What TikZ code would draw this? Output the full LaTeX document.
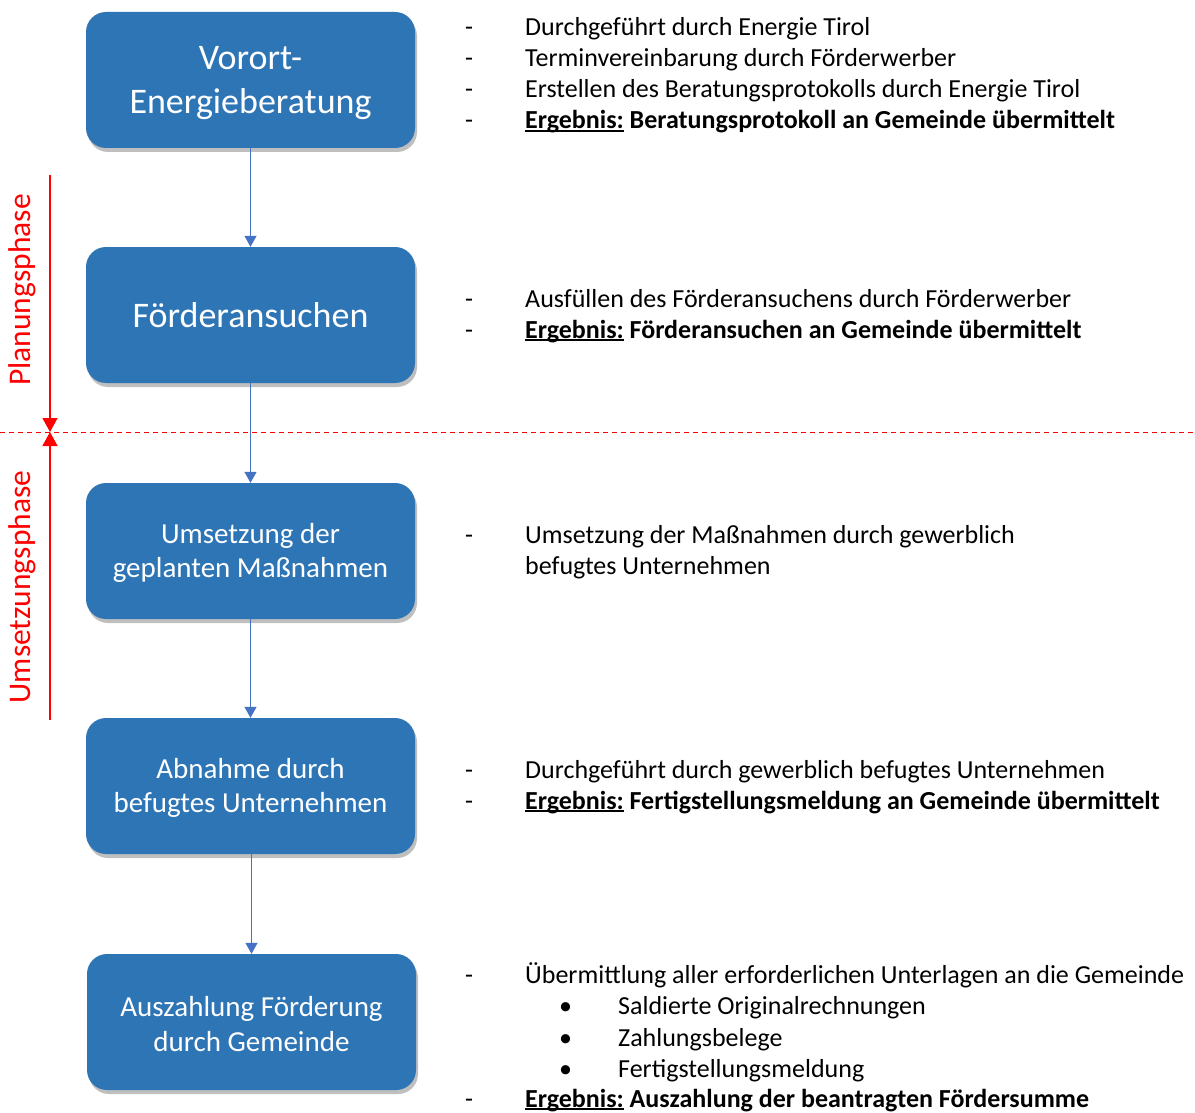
\documentclass[tikz,border=0pt]{standalone}
\usepackage{fontspec}
\setmainfont{Carlito}
\usetikzlibrary{shadows,arrows.meta}
\definecolor{boxblue}{HTML}{2E75B6}
\definecolor{arrblue}{HTML}{4472C4}
\newcommand{\ergul}[1]{{\setbox0\hbox{#1}\rlap{\rule[-2.6pt]{\wd0}{1.3pt}}\box0}}
\begin{document}
\begin{tikzpicture}[x=1pt,y=-1pt,
  stepbox/.style={draw=none,fill=boxblue,rounded corners=20pt,minimum width=329pt,minimum height=136pt,
    text=white,align=center,inner sep=0pt,
    drop shadow={shadow xshift=2pt,shadow yshift=-4pt,opacity=0.25,fill=black}},
  bigtxt/.style={font=\fontsize{36}{44}\selectfont},
  midtxt/.style={font=\fontsize{29}{34.5}\selectfont},
  flow/.style={draw=arrblue,line width=1.2pt,-{Triangle[length=11pt,width=12pt]}},
  info/.style={anchor=base west,inner sep=0pt,font=\fontsize{26}{30}\selectfont},
  phase/.style={red,line width=1.3pt},
  phasetxt/.style={red,rotate=90,inner sep=0pt,font=\fontsize{31.5}{36}\selectfont}
]
\useasboundingbox (0,0) rectangle (1195,1113);
\fill[white] (0,0) rectangle (1195,1113);

% boxes
\node[stepbox,bigtxt] (b1) at (250.5,80) {\rule{0pt}{30pt}Vorort-\\Energieberatung};
\node[stepbox,bigtxt] (b2) at (250.5,315) {Förderansuchen};
\node[stepbox,midtxt] (b3) at (250.5,551) {\rule{0pt}{24pt}Umsetzung der\\geplanten Maßnahmen};
\node[stepbox,midtxt] (b4) at (250.5,786) {\rule{0pt}{24pt}Abnahme durch\\befugtes Unternehmen};
\node[stepbox,midtxt] (b5) at (251.5,1022) {\rule{0pt}{24pt}Auszahlung Förderung\\durch Gemeinde};

% connectors
\draw[flow] (b1.south) -- (b2.north);
\draw[flow] (b2.south) -- (b3.north);
\draw[flow] (b3.south) -- (b4.north);
\draw[flow] (b5.north |- b4.south) -- (b5.north);

% phase separator
\coordinate (dl) at (0,432);
\coordinate (dr) at (1195,432);
\draw[red,dashed,line width=0.9pt,dash pattern=on 5pt off 4pt] (dl) -- (dr);
\coordinate (ptop) at (50,175);
\coordinate (pmid) at (50,432);
\coordinate (pbot) at (50,720);
\draw[phase,-{Triangle[length=14pt,width=15pt]}] (ptop) -- (pmid);
\draw[phase,-{Triangle[length=14pt,width=15pt]}] (pbot) -- (pmid);
\node[phasetxt] (pl) at (22,290) {Planungsphase};
\node[phasetxt] (ul) at (22,587) {Umsetzungsphase};

% right-side texts
\newcommand{\dsh}[2]{\node[info] (d#1) at (465,#2) {-};}
\dsh{a}{36} \node[info] (ta) at (525,36) {Durchgeführt durch Energie Tirol};
\dsh{b}{67} \node[info] (tb) at (525,67) {Terminvereinbarung durch Förderwerber};
\dsh{c}{98} \node[info] (tc) at (525,98) {Erstellen des Beratungsprotokolls durch Energie Tirol};
\dsh{d}{129} \node[info] (td) at (525,129) {\bfseries\ergul{Ergebnis:} Beratungsprotokoll an Gemeinde übermittelt};

\dsh{e}{307} \node[info] (te) at (525,307) {Ausfüllen des Förderansuchens durch Förderwerber};
\dsh{f}{338} \node[info] (tf) at (525,338) {\bfseries\ergul{Ergebnis:} Förderansuchen an Gemeinde übermittelt};

\dsh{g}{543} \node[info] (tg) at (525,543) {Umsetzung der Maßnahmen durch gewerblich};
\node[info] (th) at (525,574) {befugtes Unternehmen};

\dsh{i}{778} \node[info] (ti) at (525,778) {Durchgeführt durch gewerblich befugtes Unternehmen};
\dsh{j}{809} \node[info] (tj) at (525,809) {\bfseries\ergul{Ergebnis:} Fertigstellungsmeldung an Gemeinde übermittelt};

\dsh{k}{983} \node[info] (tk) at (525,983) {Übermittlung aller erforderlichen Unterlagen an die Gemeinde};
\node[info] (bl1) at (559,1014) {•}; \node[info] (tl) at (618,1014) {Saldierte Originalrechnungen};
\node[info] (bl2) at (559,1046) {•}; \node[info] (tm) at (618,1046) {Zahlungsbelege};
\node[info] (bl3) at (559,1077) {•}; \node[info] (tn) at (618,1077) {Fertigstellungsmeldung};
\dsh{o}{1107} \node[info] (to) at (525,1107) {\bfseries\ergul{Ergebnis:} Auszahlung der beantragten Fördersumme};
\end{tikzpicture}
\end{document}
